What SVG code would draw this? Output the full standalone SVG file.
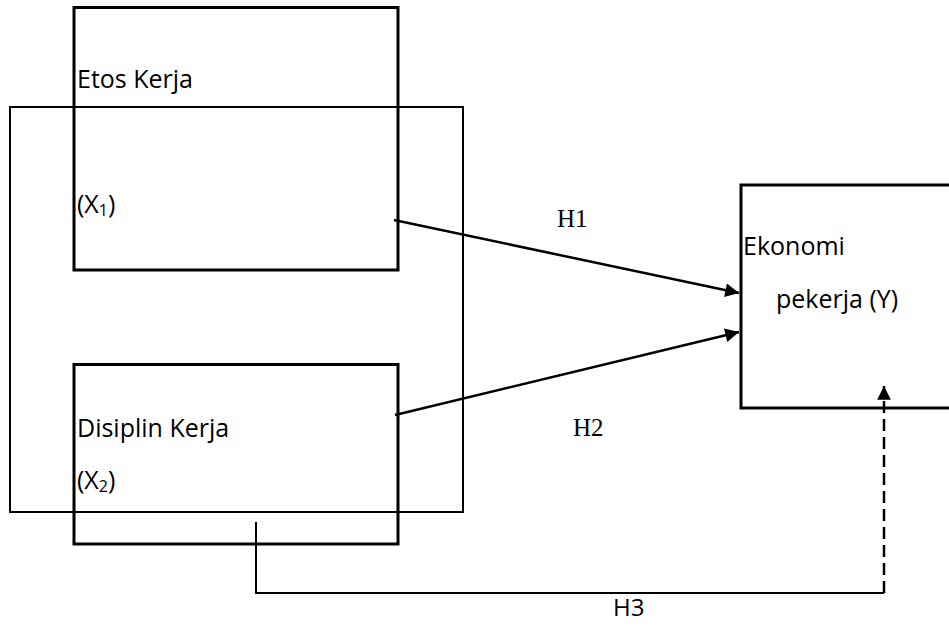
<svg xmlns="http://www.w3.org/2000/svg" width="949" height="625" viewBox="0 0 949 625">
<style>
  .box { fill: none; stroke: #000; stroke-width: 3; }
  .outer { fill: none; stroke: #000; stroke-width: 2; }
  .lbl { font-family: "Open Sans", "Liberation Sans", sans-serif; font-size: 25px; fill: #000; }
  .hl { font-family: "Liberation Serif", "Times New Roman", serif; font-size: 25px; fill: #000; }
  .hs { font-family: "Open Sans", "Liberation Sans", sans-serif; font-size: 24px; fill: #000; }
  .con { fill: none; stroke: #000; stroke-width: 2.5; }
  .thin { fill: none; stroke: #000; stroke-width: 2; }
  .dash { fill: none; stroke: #000; stroke-width: 2.5; stroke-dasharray: 12 6; }
</style>
<defs>
  <marker id="ah" viewBox="0 0 10 10" refX="10" refY="5" markerWidth="7" markerHeight="5.5" markerUnits="strokeWidth" orient="auto">
    <path d="M0,0 L10,5 L0,10 z" fill="#000"/>
  </marker>
</defs>
<rect width="949" height="625" fill="#fff"/>
<g id="outer-frame">
  <rect class="outer" x="10" y="107" width="453" height="405"/>
</g>
<g id="node-x1">
  <rect class="box" x="74" y="7.5" width="324" height="262.5"/>
  <text class="lbl" x="77" y="88">Etos Kerja</text>
  <text class="lbl" x="77" y="213">(X<tspan font-size="16" dy="3">1</tspan><tspan dy="-3">)</tspan></text>
</g>
<g id="node-x2">
  <rect class="box" x="74" y="364.5" width="324" height="179.5"/>
  <text class="lbl" x="77" y="437">Disiplin Kerja</text>
  <text class="lbl" x="77" y="489">(X<tspan font-size="16" dy="3">2</tspan><tspan dy="-3">)</tspan></text>
</g>
<g id="node-y">
  <rect class="box" x="741" y="185" width="215" height="223"/>
  <text class="lbl" x="743" y="255">Ekonomi</text>
  <text class="lbl" x="776" y="308">pekerja (Y)</text>
</g>
<g id="connectors">
  <line class="con" x1="394" y1="220" x2="739" y2="293" marker-end="url(#ah)"/>
  <line class="con" x1="395" y1="415" x2="739" y2="332" marker-end="url(#ah)"/>
  <polyline class="thin" points="256,522 256,593 884,593"/>
  <line class="dash" x1="884" y1="593" x2="884" y2="386" marker-end="url(#ah)"/>
  <text class="hl" x="557" y="227">H1</text>
  <text class="hl" x="573" y="436">H2</text>
  <text class="hs" x="613" y="616">H3</text>
</g>
</svg>
